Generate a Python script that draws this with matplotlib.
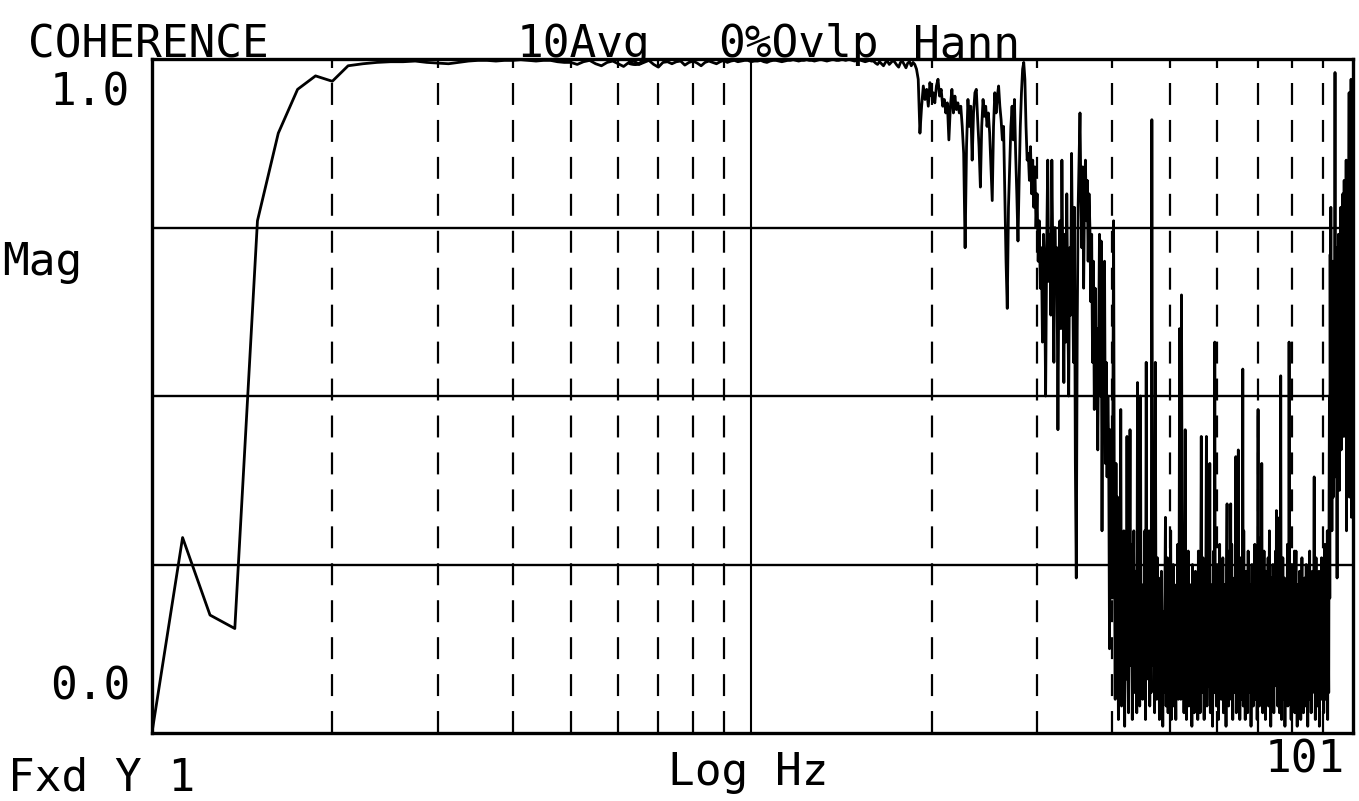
import numpy as np
import matplotlib
matplotlib.use("Agg")
from matplotlib import pyplot as plt

# analyzer bins: 0.125 Hz from 1 Hz to 101 Hz (800 lines)
bin_step = 0.125

# coherence, segment by segment (start freq, values)
rise_1hz = [0.0, 0.29, 0.175, 0.155, 0.76, 0.89, 0.955, 0.975, 0.967, 0.99]

flat_2hz = [0.993, 0.995, 0.996, 0.996, 0.997, 0.995, 0.994, 0.993, 0.995, 0.997, 0.998,
            0.998, 0.997, 0.998, 0.998, 0.999, 0.998, 0.997, 0.998, 0.998, 0.996, 0.995]

ripple_5hz = [0.995, 0.992, 0.996, 0.998, 0.993, 0.99, 0.995, 0.997, 0.993, 0.989,
              0.995, 0.997, 0.992, 0.995, 0.998, 0.992, 0.988, 0.995, 0.996, 0.993,
              0.996, 0.997, 0.991, 0.995, 0.997, 0.994, 0.99, 0.995, 0.997, 0.995,
              0.993, 0.996, 0.998, 0.995, 0.997, 0.998, 0.996, 0.997, 0.998, 0.998]

flat_10hz = [0.996, 0.997, 0.997, 0.998, 0.996, 0.995, 0.997, 0.998, 0.998, 0.997, 0.996, 0.997,
             0.998, 0.998, 0.999, 0.998, 0.997, 0.998, 0.998, 0.999, 0.998, 0.998, 0.997, 0.998,
             0.999, 0.999, 0.998, 0.997, 0.998, 0.999, 0.999, 0.998, 0.998, 0.999, 0.999, 0.998,
             0.999, 0.999, 0.998, 0.997, 0.998, 0.999, 0.998, 0.997, 0.996, 0.997, 0.998, 0.997]

ripple_16hz = [0.997, 0.994, 0.992, 0.996, 0.993, 0.99, 0.995, 0.997, 0.992, 0.995, 0.998, 0.995,
               0.991, 0.988, 0.995, 0.997, 0.992, 0.987, 0.994, 0.996, 0.99, 0.995, 0.992, 0.985]

noisy_19hz = [0.97, 0.89, 0.93, 0.96, 0.94, 0.955, 0.93, 0.965, 0.945, 0.95,
              0.935, 0.96, 0.97, 0.945, 0.955, 0.93, 0.94, 0.92, 0.935, 0.88,
              0.93, 0.955, 0.92, 0.945, 0.925, 0.935, 0.92, 0.93, 0.9, 0.86,
              0.72, 0.87, 0.94, 0.9, 0.93, 0.85, 0.92, 0.95, 0.955, 0.91,
              0.87, 0.81, 0.9, 0.94, 0.915, 0.93, 0.9, 0.92, 0.89, 0.84,
              0.79, 0.9, 0.95, 0.92, 0.945, 0.96, 0.93, 0.91, 0.88, 0.9,
              0.8, 0.7, 0.63, 0.78, 0.84, 0.9, 0.93, 0.88, 0.94, 0.86,
              0.8, 0.73, 0.82, 0.9, 0.95, 0.985, 0.995, 0.97, 0.9, 0.85]

falling_29hz = [0.86, 0.82, 0.87, 0.8, 0.85, 0.78, 0.84, 0.75, 0.8, 0.7, 0.76,
                0.66, 0.72, 0.58, 0.74, 0.68, 0.5, 0.72, 0.85, 0.67, 0.74, 0.62,
                0.85, 0.7, 0.55, 0.75, 0.66, 0.72, 0.45, 0.7, 0.76, 0.6, 0.85,
                0.68, 0.52, 0.74, 0.58, 0.8, 0.64, 0.5, 0.72, 0.62, 0.86, 0.7,
                0.55, 0.78, 0.4, 0.23, 0.6, 0.78, 0.85, 0.92, 0.8, 0.72, 0.84,
                0.66, 0.8, 0.85, 0.76, 0.82, 0.7, 0.8, 0.75, 0.64, 0.74, 0.55,
                0.7, 0.48, 0.66, 0.52, 0.6, 0.42, 0.58, 0.74, 0.5, 0.73, 0.3,
                0.62, 0.45, 0.7, 0.4, 0.55, 0.38, 0.5, 0.42, 0.125, 0.45, 0.37]

floor_40hz = [
    0.2, 0.45, 0.76, 0.3, 0.05, 0.4, 0.12, 0.35,
    0.02, 0.28, 0.1, 0.48, 0.04, 0.22, 0.15, 0.3,
    0.01, 0.25, 0.08, 0.44, 0.12, 0.03, 0.2, 0.45,
    0.1, 0.28, 0.02, 0.18, 0.3, 0.06, 0.24, 0.12,
    0.03, 0.52, 0.15, 0.26, 0.04, 0.5, 0.1, 0.22,
    0.05, 0.2, 0.12, 0.3, 0.02, 0.55, 0.08, 0.25,
    0.14, 0.3, 0.04, 0.18, 0.06, 0.91, 0.28, 0.1,
    0.22, 0.03, 0.55, 0.16, 0.05, 0.26, 0.1, 0.23,
    0.02, 0.2, 0.08, 0.24, 0.12, 0.01, 0.18, 0.06,
    0.2, 0.32, 0.04, 0.15, 0.26, 0.03, 0.12, 0.21,
    0.07, 0.3, 0.02, 0.17, 0.11, 0.25, 0.04, 0.19,
    0.13, 0.02, 0.22, 0.08, 0.28, 0.05, 0.16, 0.6,
    0.2, 0.05, 0.65, 0.3, 0.1, 0.24, 0.03, 0.18,
    0.45, 0.12, 0.02, 0.2, 0.09, 0.27, 0.04, 0.15,
    0.22, 0.06, 0.14, 0.01, 0.25, 0.1, 0.19, 0.03,
    0.16, 0.24, 0.05, 0.12, 0.2, 0.02, 0.27, 0.08,
    0.14, 0.03, 0.21, 0.44, 0.11, 0.06, 0.26, 0.13,
    0.02, 0.18, 0.09, 0.23, 0.44, 0.04, 0.16, 0.07,
    0.25, 0.11, 0.4, 0.03, 0.19, 0.08, 0.22, 0.01,
    0.14, 0.27, 0.06, 0.58, 0.12, 0.2, 0.04, 0.17,
    0.09, 0.23, 0.02, 0.15, 0.28, 0.07, 0.18, 0.05,
    0.2, 0.1, 0.26, 0.03, 0.13, 0.22, 0.06, 0.17,
    0.01, 0.24, 0.34, 0.08, 0.19, 0.04, 0.27, 0.11,
    0.16, 0.34, 0.05, 0.28, 0.12, 0.02, 0.2, 0.09,
    0.23, 0.06, 0.15, 0.41, 0.03, 0.18, 0.1, 0.25,
    0.42, 0.07, 0.2, 0.02, 0.14, 0.26, 0.05, 0.19,
    0.11, 0.54, 0.04, 0.3, 0.13, 0.21, 0.02, 0.16,
    0.24, 0.08, 0.18, 0.03, 0.27, 0.12, 0.06, 0.2,
    0.1, 0.22, 0.01, 0.15, 0.25, 0.07, 0.17, 0.04,
    0.21, 0.13, 0.28, 0.05, 0.16, 0.09, 0.23, 0.02,
    0.18, 0.48, 0.1, 0.26, 0.04, 0.2, 0.12, 0.29,
    0.06, 0.4, 0.15, 0.03, 0.22, 0.11, 0.27, 0.08,
    0.19, 0.02, 0.24, 0.13, 0.06, 0.21, 0.1, 0.26,
    0.04, 0.17, 0.3, 0.08, 0.2, 0.01, 0.14, 0.23,
    0.12, 0.05, 0.25, 0.18, 0.03, 0.22, 0.09, 0.15,
    0.27, 0.07, 0.33, 0.12, 0.32, 0.04, 0.2, 0.1,
    0.16, 0.03, 0.24, 0.08, 0.53, 0.14, 0.02, 0.21,
    0.11, 0.26, 0.05, 0.18, 0.09, 0.23, 0.01, 0.15,
    0.22, 0.07, 0.19, 0.12, 0.28, 0.04, 0.17, 0.1,
    0.58, 0.2, 0.06, 0.25, 0.13, 0.02, 0.21, 0.08,
    0.15, 0.24, 0.04, 0.18, 0.1, 0.27, 0.03, 0.14,
    0.2, 0.27, 0.07, 0.16, 0.01, 0.22, 0.11, 0.19,
    0.05, 0.13, 0.24, 0.08, 0.18, 0.02, 0.2, 0.12,
    0.26, 0.06, 0.15, 0.21, 0.03, 0.17, 0.09, 0.23,
    0.1, 0.19, 0.04, 0.25, 0.12, 0.07, 0.2, 0.01,
    0.16, 0.22, 0.08, 0.14, 0.27, 0.05, 0.18, 0.11,
    0.03, 0.2, 0.13, 0.24, 0.06, 0.17, 0.1, 0.21,
    0.38, 0.09, 0.23, 0.02, 0.16, 0.26, 0.07, 0.19,
    0.12, 0.04, 0.21, 0.15, 0.08, 0.24, 0.01, 0.17,
    0.22, 0.1, 0.18, 0.05, 0.26, 0.13, 0.2, 0.06,
    0.15, 0.24, 0.03, 0.19, 0.11, 0.28, 0.08, 0.21,
    0.05, 0.18, 0.25, 0.1, 0.3, 0.02, 0.22, 0.14,
    0.06, 0.35, 0.5, 0.2, 0.71, 0.45, 0.78, 0.4]

recovery_93hz = [0.55, 0.3, 0.62, 0.4, 0.7, 0.35, 0.58, 0.45,
                 0.66, 0.5, 0.98, 0.42, 0.6, 0.38, 0.72, 0.48,
                 0.23, 0.55, 0.68, 0.4, 0.74, 0.5, 0.62, 0.36,
                 0.7, 0.45, 0.6, 0.78, 0.42, 0.66, 0.52, 0.75,
                 0.48, 0.8, 0.56, 0.7, 0.44, 0.82, 0.6, 0.72,
                 0.5, 0.76, 0.64, 0.85, 0.3, 0.7, 0.46, 0.8,
                 0.62, 0.84, 0.58, 0.75, 0.95, 0.35, 0.78, 0.66,
                 0.82, 0.7, 0.97, 0.32, 0.8, 0.72, 0.86, 0.45, 0.8]

segments = [(1.0, rise_1hz), (2.25, flat_2hz), (5.0, ripple_5hz), (10.0, flat_10hz),
            (16.0, ripple_16hz), (19.0, noisy_19hz), (29.0, falling_29hz),
            (40.0, floor_40hz), (93.0, recovery_93hz)]

dashed_freqs = [2, 3, 4, 5, 6, 7, 8, 9, 20, 30, 40, 50, 60, 70, 80, 90]
solid_freqs = [10]
mag_grid = [0.25, 0.5, 0.75]

freq, coh = [], []
for f0, vals in segments:
    freq.extend(f0 + bin_step * np.arange(len(vals)))
    coh.extend(vals)

plt.rcParams['font.family'] = ['DejaVu Sans Mono']
plt.rcParams['lines.scale_dashes'] = False

fig = plt.figure(figsize=(13.59, 8.01), dpi=100)
ax = fig.add_axes([0.1118, 0.0849, 0.8838, 0.8414])

for f in dashed_freqs:
    ax.axvline(f, color='k', lw=1.6, dashes=(15.8, 10.8))
for f in solid_freqs:
    ax.axvline(f, color='k', lw=1.5)
for m in mag_grid:
    ax.axhline(m, color='k', lw=1.7)

ax.plot(freq, coh, color='k', lw=2.0)

ax.set_xscale('log')
ax.set_xlim(1, 101)
ax.set_ylim(0, 1)
ax.xaxis.set_major_locator(plt.NullLocator())
ax.xaxis.set_minor_locator(plt.NullLocator())
ax.yaxis.set_major_locator(plt.NullLocator())
for s in ax.spines.values():
    s.set_linewidth(2.4)

fs = 32
fig.text(0.0206, 0.9288, "COHERENCE", fontsize=fs, va='baseline')
fig.text(0.3804, 0.9288, "10Avg", fontsize=fs, va='baseline')
fig.text(0.5283, 0.9288, "0%Ovlp", fontsize=fs, va='baseline')
fig.text(0.6718, 0.9288, "Hann", fontsize=fs, va='baseline')
fig.text(0.0957, 0.8689, "1.0", fontsize=fs, va='baseline', ha='right')
fig.text(0.0015, 0.6567, "Mag", fontsize=fs, va='baseline')
fig.text(0.0957, 0.1261, "0.0", fontsize=fs, va='baseline', ha='right')
fig.text(0.0059, 0.0137, "Fxd Y 1", fontsize=fs, va='baseline')
fig.text(0.4915, 0.0200, "Log Hz", fontsize=fs, va='baseline')
fig.text(0.9897, 0.0350, "101", fontsize=fs, va='baseline', ha='right')

fig.savefig("out.png", dpi=100)
